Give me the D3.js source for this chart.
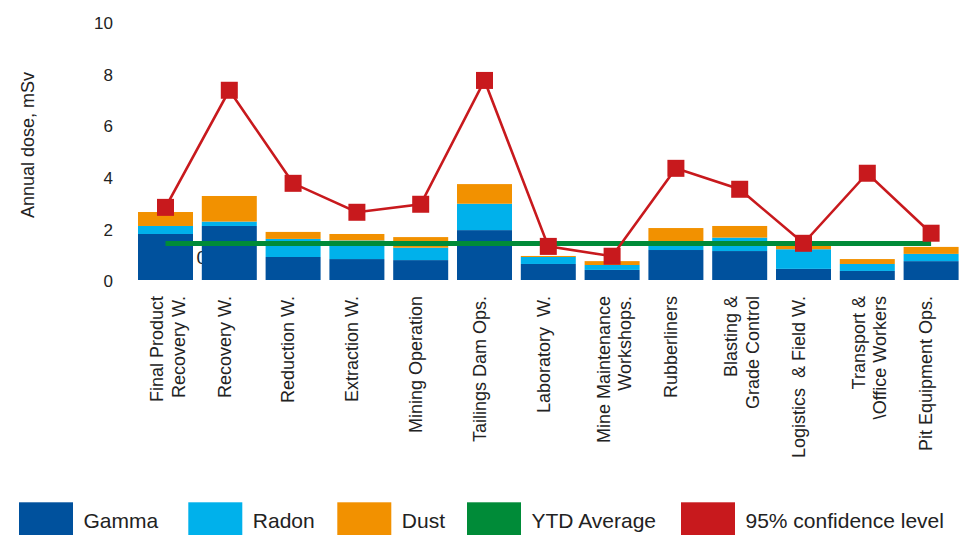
<!DOCTYPE html>
<html>
<head>
<meta charset="utf-8">
<script src="https://cdn.jsdelivr.net/npm/d3@7"></script>
<style>
  html, body { margin: 0; padding: 0; background: #fff; }
  svg { display: block; font-family: "Liberation Sans", Arial, sans-serif; }
</style>
</head>
<body>
<svg id="chart" width="959" height="535"></svg>
<script>
const categories = [
  ["Final Product", "Recovery W."],
  ["Recovery W."],
  ["Reduction W."],
  ["Extraction W."],
  ["Mining Operation"],
  ["Tailings Dam Ops."],
  ["Laboratory  W."],
  ["Mine Maintenance", "Workshops."],
  ["Rubberliners"],
  ["Blasting &", "Grade Control"],
  ["Logistics  & Field W."],
  ["Transport &", "\\Office Workers"],
  ["Pit Equipment Ops."]
];
const gamma = [1.78, 2.09, 0.89, 0.81, 0.77, 1.93, 0.62, 0.39, 1.16, 1.12, 0.43, 0.35, 0.73];
const radon = [0.31, 0.17, 0.70, 0.72, 0.48, 1.02, 0.27, 0.19, 0.18, 0.52, 0.76, 0.27, 0.28];
const dust  = [0.54, 0.99, 0.27, 0.25, 0.41, 0.76, 0.04, 0.15, 0.67, 0.45, 0.21, 0.19, 0.27];
const confidence95 = [2.81, 7.34, 3.74, 2.62, 2.93, 7.72, 1.30, 0.92, 4.32, 3.51, 1.42, 4.13, 1.81];
const ytdAverage = 1.41;
const yTicks = [0, 2, 4, 6, 8, 10];
const strayLabel = "0";
const legendItems = ["Gamma", "Radon", "Dust", "YTD Average", "95% confidence level"];

const colors = {
  Gamma: "#00519d",
  Radon: "#00b1eb",
  Dust: "#f29100",
  "YTD Average": "#008b38",
  "95% confidence level": "#c8191d"
};

const svg = d3.select("#chart");
const keys = categories.map((c, i) => "c" + i);

const x = d3.scaleBand().domain(keys).range([133.6, 963]).paddingInner(0.138).paddingOuter(0.069);
const y = d3.scaleLinear().domain([0, 10]).range([280, 21.5]);
const cx = k => x(k) + x.bandwidth() / 2;

// y tick labels (no axis line)
const yAxis = d3.axisLeft(y).tickValues(yTicks).tickSize(0).tickPadding(0).tickFormat(d3.format("d"));
const yg = svg.append("g").attr("transform", "translate(113,1.5)").call(yAxis);
yg.select(".domain").remove();
yg.selectAll("text").attr("font-size", 17).attr("fill", "#222")
  .attr("font-family", "Liberation Sans, Arial, sans-serif").attr("x", 0);

// y title
svg.append("text")
  .attr("transform", "translate(28,145) rotate(-90)")
  .attr("text-anchor", "middle").attr("dy", "0.35em")
  .attr("font-size", 18).attr("fill", "#222")
  .text("Annual dose, mSv");

// stray label behind bars
svg.append("text").attr("x", 196.5).attr("y", 263.5)
  .attr("font-size", 19).attr("fill", "#222").text(strayLabel);

// stacked bars
const rows = keys.map((k, i) => ({ key: k, Gamma: gamma[i], Radon: radon[i], Dust: dust[i] }));
const stack = d3.stack().keys(["Gamma", "Radon", "Dust"])(rows);
svg.append("g").selectAll("g").data(stack).join("g")
  .attr("fill", s => colors[s.key])
  .selectAll("rect").data(s => s).join("rect")
  .attr("x", d => x(d.data.key))
  .attr("width", x.bandwidth())
  .attr("y", d => y(d[1]))
  .attr("height", d => y(d[0]) - y(d[1]));

// YTD average line
svg.append("line")
  .attr("x1", cx(keys[0])).attr("x2", cx(keys[keys.length - 1]))
  .attr("y1", y(ytdAverage)).attr("y2", y(ytdAverage))
  .attr("stroke", colors["YTD Average"]).attr("stroke-width", 5);

// 95% confidence line
const line = d3.line().x((d, i) => cx(keys[i])).y(d => y(d));
svg.append("path").datum(confidence95)
  .attr("d", line).attr("fill", "none")
  .attr("stroke", colors["95% confidence level"]).attr("stroke-width", 2.6);

const ms = 17;
svg.append("g").selectAll("rect").data(confidence95).join("rect")
  .attr("x", (d, i) => cx(keys[i]) - ms / 2)
  .attr("y", d => y(d) - ms / 2)
  .attr("width", ms).attr("height", ms)
  .attr("fill", colors["95% confidence level"]);

// x labels
const xg = svg.append("g");
categories.forEach((lines, i) => {
  const n = lines.length;
  const off = n === 1 ? -5 : 2;
  const t = xg.append("text")
    .attr("transform", `translate(${cx(keys[i]) + off},296) rotate(-90)`)
    .attr("text-anchor", "end")
    .attr("font-size", 18).attr("fill", "#222")
    .attr("xml:space", "preserve")
    .style("white-space", "pre");
  lines.forEach((l, j) => {
    t.append("tspan").attr("x", 0)
      .attr("y", (j - (n - 1) / 2) * 21.5)
      .attr("dy", "0.35em")
      .text(l);
  });
});

// legend
const legendSquares = [19, 188.3, 337.3, 467, 681];
const lg = svg.append("g");
legendItems.forEach((name, i) => {
  lg.append("rect").attr("x", legendSquares[i]).attr("y", 502.3)
    .attr("width", 54).attr("height", 34).attr("fill", colors[name]);
  lg.append("text").attr("x", legendSquares[i] + 64.5).attr("y", 527.7)
    .attr("font-size", 21).attr("fill", "#222").text(name);
});
</script>
</body>
</html>
